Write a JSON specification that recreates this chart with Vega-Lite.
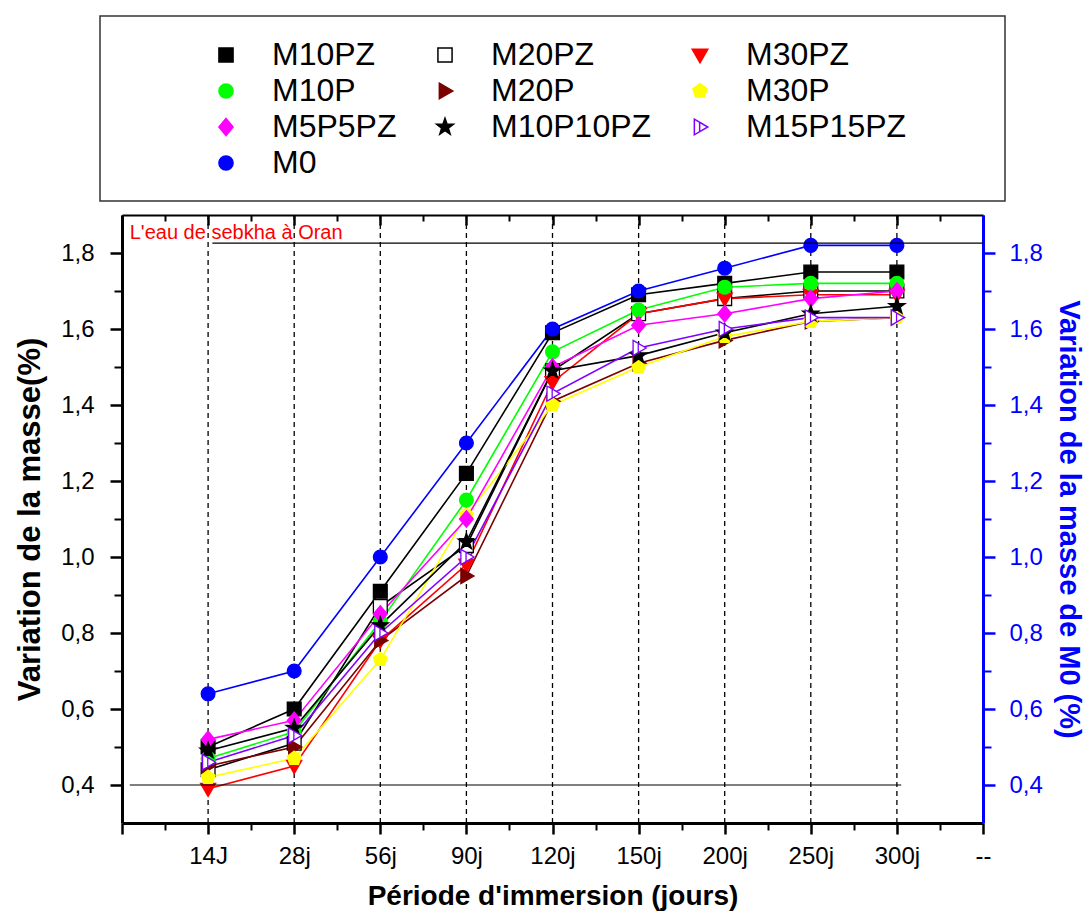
{
  "$schema": "https://vega.github.io/schema/vega-lite/v6.json",
  "padding": {"left": 14, "top": 15, "right": 2, "bottom": 2},
  "spacing": 14,
  "center": true,
  "bounds": "flush",
  "config": {
    "font": "Liberation Sans",
    "axis": {"grid": false, "labelFont": "Liberation Sans", "titleFont": "Liberation Sans"},
    "legend": {"labelFont": "Liberation Sans"}
  },
  "datasets": {
    "series": [
      {"serie": "M10PZ", "periode": 1, "variation": 0.50}, {"serie": "M10PZ", "periode": 2, "variation": 0.60}, {"serie": "M10PZ", "periode": 3, "variation": 0.91}, {"serie": "M10PZ", "periode": 4, "variation": 1.22}, {"serie": "M10PZ", "periode": 5, "variation": 1.59}, {"serie": "M10PZ", "periode": 6, "variation": 1.69}, {"serie": "M10PZ", "periode": 7, "variation": 1.72}, {"serie": "M10PZ", "periode": 8, "variation": 1.75}, {"serie": "M10PZ", "periode": 9, "variation": 1.75},
      {"serie": "M20PZ", "periode": 1, "variation": 0.44}, {"serie": "M20PZ", "periode": 2, "variation": 0.51}, {"serie": "M20PZ", "periode": 3, "variation": 0.87}, {"serie": "M20PZ", "periode": 4, "variation": 1.03}, {"serie": "M20PZ", "periode": 5, "variation": 1.49}, {"serie": "M20PZ", "periode": 6, "variation": 1.64}, {"serie": "M20PZ", "periode": 7, "variation": 1.68}, {"serie": "M20PZ", "periode": 8, "variation": 1.70}, {"serie": "M20PZ", "periode": 9, "variation": 1.70},
      {"serie": "M30PZ", "periode": 1, "variation": 0.39}, {"serie": "M30PZ", "periode": 2, "variation": 0.45}, {"serie": "M30PZ", "periode": 3, "variation": 0.78}, {"serie": "M30PZ", "periode": 4, "variation": 0.98}, {"serie": "M30PZ", "periode": 5, "variation": 1.46}, {"serie": "M30PZ", "periode": 6, "variation": 1.64}, {"serie": "M30PZ", "periode": 7, "variation": 1.68}, {"serie": "M30PZ", "periode": 8, "variation": 1.69}, {"serie": "M30PZ", "periode": 9, "variation": 1.69},
      {"serie": "M10P", "periode": 1, "variation": 0.47}, {"serie": "M10P", "periode": 2, "variation": 0.54}, {"serie": "M10P", "periode": 3, "variation": 0.83}, {"serie": "M10P", "periode": 4, "variation": 1.15}, {"serie": "M10P", "periode": 5, "variation": 1.54}, {"serie": "M10P", "periode": 6, "variation": 1.65}, {"serie": "M10P", "periode": 7, "variation": 1.71}, {"serie": "M10P", "periode": 8, "variation": 1.72}, {"serie": "M10P", "periode": 9, "variation": 1.72},
      {"serie": "M20P", "periode": 1, "variation": 0.45}, {"serie": "M20P", "periode": 2, "variation": 0.50}, {"serie": "M20P", "periode": 3, "variation": 0.78}, {"serie": "M20P", "periode": 4, "variation": 0.95}, {"serie": "M20P", "periode": 5, "variation": 1.41}, {"serie": "M20P", "periode": 6, "variation": 1.51}, {"serie": "M20P", "periode": 7, "variation": 1.57}, {"serie": "M20P", "periode": 8, "variation": 1.62}, {"serie": "M20P", "periode": 9, "variation": 1.63},
      {"serie": "M30P", "periode": 1, "variation": 0.42}, {"serie": "M30P", "periode": 2, "variation": 0.47}, {"serie": "M30P", "periode": 3, "variation": 0.73}, {"serie": "M30P", "periode": 4, "variation": 1.11}, {"serie": "M30P", "periode": 5, "variation": 1.40}, {"serie": "M30P", "periode": 6, "variation": 1.50}, {"serie": "M30P", "periode": 7, "variation": 1.58}, {"serie": "M30P", "periode": 8, "variation": 1.62}, {"serie": "M30P", "periode": 9, "variation": 1.63},
      {"serie": "M5P5PZ", "periode": 1, "variation": 0.52}, {"serie": "M5P5PZ", "periode": 2, "variation": 0.57}, {"serie": "M5P5PZ", "periode": 3, "variation": 0.85}, {"serie": "M5P5PZ", "periode": 4, "variation": 1.10}, {"serie": "M5P5PZ", "periode": 5, "variation": 1.50}, {"serie": "M5P5PZ", "periode": 6, "variation": 1.61}, {"serie": "M5P5PZ", "periode": 7, "variation": 1.64}, {"serie": "M5P5PZ", "periode": 8, "variation": 1.68}, {"serie": "M5P5PZ", "periode": 9, "variation": 1.70},
      {"serie": "M10P10PZ", "periode": 1, "variation": 0.49}, {"serie": "M10P10PZ", "periode": 2, "variation": 0.55}, {"serie": "M10P10PZ", "periode": 3, "variation": 0.82}, {"serie": "M10P10PZ", "periode": 4, "variation": 1.04}, {"serie": "M10P10PZ", "periode": 5, "variation": 1.49}, {"serie": "M10P10PZ", "periode": 6, "variation": 1.53}, {"serie": "M10P10PZ", "periode": 7, "variation": 1.59}, {"serie": "M10P10PZ", "periode": 8, "variation": 1.64}, {"serie": "M10P10PZ", "periode": 9, "variation": 1.66},
      {"serie": "M15P15PZ", "periode": 1, "variation": 0.46}, {"serie": "M15P15PZ", "periode": 2, "variation": 0.53}, {"serie": "M15P15PZ", "periode": 3, "variation": 0.80}, {"serie": "M15P15PZ", "periode": 4, "variation": 1.00}, {"serie": "M15P15PZ", "periode": 5, "variation": 1.43}, {"serie": "M15P15PZ", "periode": 6, "variation": 1.55}, {"serie": "M15P15PZ", "periode": 7, "variation": 1.60}, {"serie": "M15P15PZ", "periode": 8, "variation": 1.63}, {"serie": "M15P15PZ", "periode": 9, "variation": 1.63},
      {"serie": "M0", "periode": 1, "variation": 0.64}, {"serie": "M0", "periode": 2, "variation": 0.70}, {"serie": "M0", "periode": 3, "variation": 1.00}, {"serie": "M0", "periode": 4, "variation": 1.30}, {"serie": "M0", "periode": 5, "variation": 1.60}, {"serie": "M0", "periode": 6, "variation": 1.70}, {"serie": "M0", "periode": 7, "variation": 1.76}, {"serie": "M0", "periode": 8, "variation": 1.82}, {"serie": "M0", "periode": 9, "variation": 1.82}
    ],
    "jours": [
      {"periode": 1, "jour": "14J"}, {"periode": 2, "jour": "28j"}, {"periode": 3, "jour": "56j"}, {"periode": 4, "jour": "90j"}, {"periode": 5, "jour": "120j"}, {"periode": 6, "jour": "150j"}, {"periode": 7, "jour": "200j"}, {"periode": 8, "jour": "250j"}, {"periode": 9, "jour": "300j"}
    ],
    "reperes": [
      {"niveau": 1.826, "debut": 1.05, "fin": 10},
      {"niveau": 0.4, "debut": 0.09, "fin": 9.05}
    ],
    "note": [
      {"texte": "L'eau de sebkha à Oran", "periode": 0.09, "variation": 1.853}
    ]
  },
  "vconcat": [
    {
      "width": 905,
      "height": 185,
      "data": {"values": []},
      "mark": {"type": "rule"},
      "encoding": {},
      "view": {"stroke": "#333333", "strokeWidth": 1.5, "fill": null}
    },
    {
      "name": "main",
      "width": 861,
      "height": 608,
      "view": {"stroke": null},
      "resolve": {"axis": {"x": "independent", "y": "independent"}},
      "layer": [
        {
          "data": {"name": "jours"},
          "mark": {"type": "rule", "strokeDash": [5, 4], "strokeWidth": 1.3, "color": "#000000"},
          "encoding": {
            "x": {
              "field": "periode", "type": "quantitative",
              "scale": {"domain": [0, 10], "nice": false, "zero": false},
              "axis": {
                "orient": "bottom", "values": [0, 1, 2, 3, 4, 5, 6, 7, 8, 9, 10],
                "labelExpr": "['', '14J', '28j', '56j', '90j', '120j', '150j', '200j', '250j', '300j', '--'][datum.value]",
                "tickSize": 11, "tickWidth": 2.5, "tickColor": "#000000",
                "domainColor": "#000000", "domainWidth": 3,
                "labelFontSize": 24, "labelColor": "#000000", "labelPadding": 10, "labelFlush": false, "labelOverlap": false,
                "title": "Période d'immersion (jours)", "titleFontSize": 28, "titleFontWeight": "bold", "titleColor": "#000000", "titlePadding": 14
              }
            }
          }
        },
        {
          "data": {"name": "series"},
          "mark": {"type": "line", "strokeWidth": 1.6},
          "encoding": {
            "x": {
              "field": "periode", "type": "quantitative",
              "scale": {"domain": [0, 10], "nice": false, "zero": false},
              "axis": {"orient": "bottom", "values": [0.5, 1.5, 2.5, 3.5, 4.5, 5.5, 6.5, 7.5, 8.5, 9.5], "tickSize": 7, "tickWidth": 2, "tickColor": "#000000", "labels": false, "domain": false, "title": null}
            },
            "y": {
              "field": "variation", "type": "quantitative",
              "scale": {"domain": [0.3, 1.9], "nice": false, "zero": false},
              "axis": {
                "orient": "left", "values": [0.4, 0.6, 0.8, 1.0, 1.2, 1.4, 1.6, 1.8],
                "labelExpr": "replace(format(datum.value, '.1f'), '.', ',')",
                "tickSize": 12, "tickWidth": 2.5, "tickColor": "#000000",
                "domainColor": "#000000", "domainWidth": 3,
                "labelFontSize": 24, "labelColor": "#000000", "labelPadding": 16,
                "title": "Variation de la masse(%)", "titleFontSize": 31, "titleFontWeight": "bold", "titleColor": "#000000", "titlePadding": 14
              }
            },
            "stroke": {
              "field": "serie", "type": "nominal",
              "scale": {
                "domain": ["M10PZ", "M20PZ", "M30PZ", "M10P", "M20P", "M30P", "M5P5PZ", "M10P10PZ", "M15P15PZ", "M0"],
                "range": ["#000000", "#000000", "#ff0000", "#00ff00", "#7a0000", "#ffff00", "#ff00ff", "#000000", "#8000ff", "#0000ff"]
              }
            }
          }
        },
        {
          "data": {"name": "series"},
          "mark": {"type": "point", "filled": true, "size": 190, "strokeWidth": 1.3, "opacity": 1},
          "encoding": {
            "x": {
              "field": "periode", "type": "quantitative",
              "scale": {"domain": [0, 10], "nice": false, "zero": false},
              "axis": {"orient": "top", "values": [0, 1, 2, 3, 4, 5, 6, 7, 8, 9, 10], "tickSize": -10, "tickWidth": 2.5, "tickColor": "#000000", "labels": false, "domainColor": "#000000", "domainWidth": 2, "title": null}
            },
            "y": {
              "field": "variation", "type": "quantitative",
              "scale": {"domain": [0.3, 1.9], "nice": false, "zero": false},
              "axis": {
                "orient": "right", "values": [0.4, 0.6, 0.8, 1.0, 1.2, 1.4, 1.6, 1.8],
                "labelExpr": "replace(format(datum.value, '.1f'), '.', ',')",
                "tickSize": 12, "tickWidth": 2.5, "tickColor": "#0000ff",
                "domainColor": "#0000ff", "domainWidth": 3,
                "labelFontSize": 24, "labelColor": "#0000ff", "labelPadding": 14,
                "title": "Variation de la masse de M0 (%)", "titleFontSize": 29, "titleFontWeight": "bold", "titleColor": "#0000ff", "titlePadding": 11
              }
            },
            "shape": {
              "field": "serie", "type": "nominal",
              "scale": {
                "domain": ["M10PZ", "M20PZ", "M30PZ", "M10P", "M20P", "M30P", "M5P5PZ", "M10P10PZ", "M15P15PZ", "M0"],
                "range": [
                  "M-1,-1L1,-1L1,1L-1,1Z",
                  "M-1,-1L1,-1L1,1L-1,1Z",
                  "M-1.1,-0.8L1.1,-0.8L0,1.1Z",
                  "M1,0A1,1,0,1,1,-1,0A1,1,0,1,1,1,0Z",
                  "M-0.8,-1.1L1.1,0L-0.8,1.1Z",
                  "M0,-1.05L1,-0.32L0.62,0.85L-0.62,0.85L-1,-0.32Z",
                  "M0,-1.2L1,0L0,1.2L-1,0Z",
                  "M0,-1.25L0.294,-0.405L1.189,-0.386L0.476,0.155L0.735,1.011L0,0.5L-0.735,1.011L-0.476,0.155L-1.189,-0.386L-0.294,-0.405Z",
                  "M-0.8,-1.1L1.1,0L-0.8,1.1ZM-0.05,-0.7L-0.05,0.7",
                  "M1,0A1,1,0,1,1,-1,0A1,1,0,1,1,1,0Z"
                ]
              },
              "legend": {
                "orient": "none", "legendX": 88, "legendY": 23, "direction": "horizontal",
                "columns": 3, "gridAlign": "none", "columnPadding": 10, "rowPadding": 4,
                "labelFontSize": 32, "labelColor": "#000000", "labelOffset": 30, "labelLimit": 400,
                "symbolSize": 200, "symbolStrokeWidth": 1.5, "symbolOffset": 22,
                "padding": 0, "title": null
              }
            },
            "fill": {
              "field": "serie", "type": "nominal",
              "scale": {
                "domain": ["M10PZ", "M20PZ", "M30PZ", "M10P", "M20P", "M30P", "M5P5PZ", "M10P10PZ", "M15P15PZ", "M0"],
                "range": ["#000000", "#ffffff", "#ff0000", "#00ff00", "#7a0000", "#ffff00", "#ff00ff", "#000000", "#ffffff", "#0000ff"]
              }
            },
            "stroke": {
              "field": "serie", "type": "nominal",
              "scale": {
                "domain": ["M10PZ", "M20PZ", "M30PZ", "M10P", "M20P", "M30P", "M5P5PZ", "M10P10PZ", "M15P15PZ", "M0"],
                "range": ["#000000", "#000000", "#ff0000", "#00ff00", "#7a0000", "#ffff00", "#ff00ff", "#000000", "#8000ff", "#0000ff"]
              }
            }
          }
        },
        {
          "data": {"name": "reperes"},
          "mark": {"type": "rule", "strokeWidth": 1.2, "color": "#000000"},
          "encoding": {
            "x": {
              "field": "debut", "type": "quantitative",
              "scale": {"domain": [0, 10], "nice": false, "zero": false},
              "axis": {"orient": "top", "values": [0.5, 1.5, 2.5, 3.5, 4.5, 5.5, 6.5, 7.5, 8.5, 9.5], "tickSize": -6, "tickWidth": 2, "tickColor": "#000000", "labels": false, "domain": false, "title": null}
            },
            "x2": {"field": "fin"},
            "y": {
              "field": "niveau", "type": "quantitative",
              "scale": {"domain": [0.3, 1.9], "nice": false, "zero": false},
              "axis": {"orient": "left", "values": [0.5, 0.7, 0.9, 1.1, 1.3, 1.5, 1.7], "tickSize": 8, "tickWidth": 2, "tickColor": "#000000", "labels": false, "domain": false, "title": null}
            }
          }
        },
        {
          "data": {"name": "note"},
          "mark": {"type": "text", "align": "left", "baseline": "middle", "fontSize": 20, "color": "#ff0000", "font": "Liberation Sans"},
          "encoding": {
            "x": {
              "field": "periode", "type": "quantitative",
              "scale": {"domain": [0, 10], "nice": false, "zero": false},
              "axis": null
            },
            "y": {
              "field": "variation", "type": "quantitative",
              "scale": {"domain": [0.3, 1.9], "nice": false, "zero": false},
              "axis": {"orient": "right", "values": [0.5, 0.7, 0.9, 1.1, 1.3, 1.5, 1.7], "tickSize": 8, "tickWidth": 2, "tickColor": "#0000ff", "labels": false, "domain": false, "title": null}
            },
            "text": {"field": "texte", "type": "nominal"}
          }
        }
      ]
    }
  ]
}
